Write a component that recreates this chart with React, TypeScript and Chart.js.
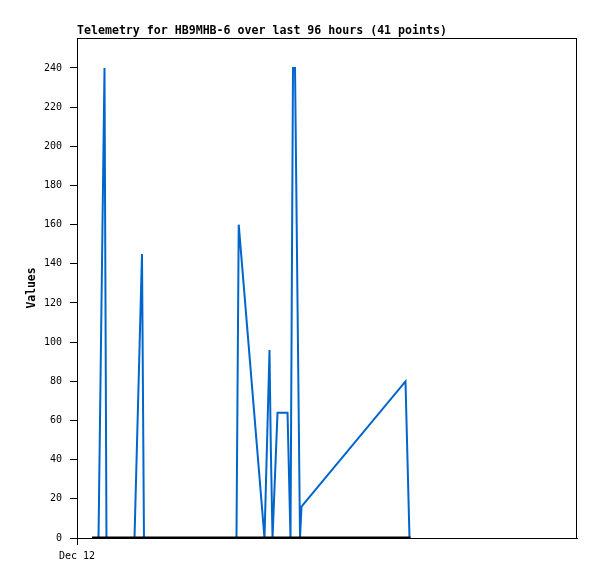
import React, { useEffect, useRef } from "react";
import { Chart, registerables } from "chart.js";

Chart.register(...registerables);

const TITLE = "Telemetry for HB9MHB-6 over last 96 hours (41 points)";
const Y_TITLE = "Values";
const X_TICK_LABEL = "Dec 12";

// time in hours from the start of the window (Dec 12 00:00)
const blueHours = [4.13, 5.28, 5.66, 11.04, 12.48, 12.86, 30.62, 31.05, 36.0, 36.96, 37.2, 37.54, 38.5, 40.42, 40.99, 41.47, 41.86, 42.82, 43.1, 63.07, 63.84];
const blueValues = [0, 240, 0, 0, 145, 0, 0, 160, 0, 96, 48, 0, 64, 64, 0, 240, 240, 0, 16, 80, 0];

const blackHours = [2.88, 64.03];
const blackValues = [0, 0];

const yTicks = [0, 20, 40, 60, 80, 100, 120, 140, 160, 180, 200, 220, 240];

const MONO = "'DejaVu Sans Mono', monospace";

export default function App() {
  const ref = useRef<HTMLCanvasElement | null>(null);

  useEffect(() => {
    if (!ref.current) return;
    const framePlugin = {
      id: "frame",
      afterDraw(chart: any) {
        const { ctx, chartArea } = chart;
        ctx.save();
        ctx.strokeStyle = "#000";
        ctx.lineWidth = 1;
        ctx.strokeRect(chartArea.left + 0.5, chartArea.top + 0.5, chartArea.right - chartArea.left - 1, chartArea.bottom - chartArea.top);
        ctx.fillStyle = "#000";
        ctx.font = `bold 11.6px ${MONO}`;
        ctx.textAlign = "left";
        ctx.textBaseline = "alphabetic";
        ctx.fillText(TITLE, chartArea.left, 34);
        ctx.restore();
      },
    };

    const chart = new Chart(ref.current, {
      type: "line",
      data: {
        datasets: [
          {
            label: "zero",
            data: blackHours.map((h, i) => ({ x: h, y: blackValues[i] })),
            borderColor: "#000000",
            borderWidth: 3,
            pointRadius: 0,
            tension: 0,
          },
          {
            label: "value",
            data: blueHours.map((h, i) => ({ x: h, y: blueValues[i] })),
            borderColor: "#0066cc",
            borderWidth: 2,
            pointRadius: 0,
            tension: 0,
          },
        ],
      },
      options: {
        responsive: false,
        animation: false,
        layout: { padding: { top: 38, right: 20, left: 0, bottom: 0 } },
        plugins: { legend: { display: false }, tooltip: { enabled: false }, title: { display: false } },
        scales: {
          x: {
            type: "linear",
            min: 0,
            max: 96,
            afterBuildTicks: (s: any) => {
              s.ticks = [{ value: 0 }];
            },
            afterFit: (s: any) => {
              s.height = 41;
            },
            ticks: {
              callback: () => X_TICK_LABEL,
              font: { family: MONO, size: 10 },
              color: "#000",
              padding: 5,
              maxRotation: 0,
              autoSkip: false,
            },
            grid: { drawOnChartArea: false, drawTicks: true, tickLength: 7, color: "#000" },
            border: { display: true, color: "#000", width: 1 },
          },
          y: {
            type: "linear",
            min: 0,
            max: 255.3,
            afterBuildTicks: (s: any) => {
              s.ticks = yTicks.map((v) => ({ value: v }));
            },
            afterFit: (s: any) => {
              s.width = 77;
            },
            ticks: {
              font: { family: MONO, size: 10 },
              color: "#000",
              padding: 8,
              autoSkip: false,
            },
            grid: { drawOnChartArea: false, drawTicks: true, tickLength: 7, color: "#000" },
            border: { display: true, color: "#000", width: 1 },
            title: {
              display: true,
              text: Y_TITLE,
              font: { family: MONO, size: 11.4, weight: "bold" },
              color: "#000",
              padding: { top: 25, bottom: 0 },
            },
          },
        },
      },
      plugins: [framePlugin],
    } as any);
    return () => chart.destroy();
  }, []);

  return (
    <div style={{ position: "fixed", left: 0, top: 0, width: 597, height: 579, background: "#fff" }}>
      <canvas ref={ref} width={597} height={579} style={{ width: 597, height: 579, display: "block" }} />
    </div>
  );
}
